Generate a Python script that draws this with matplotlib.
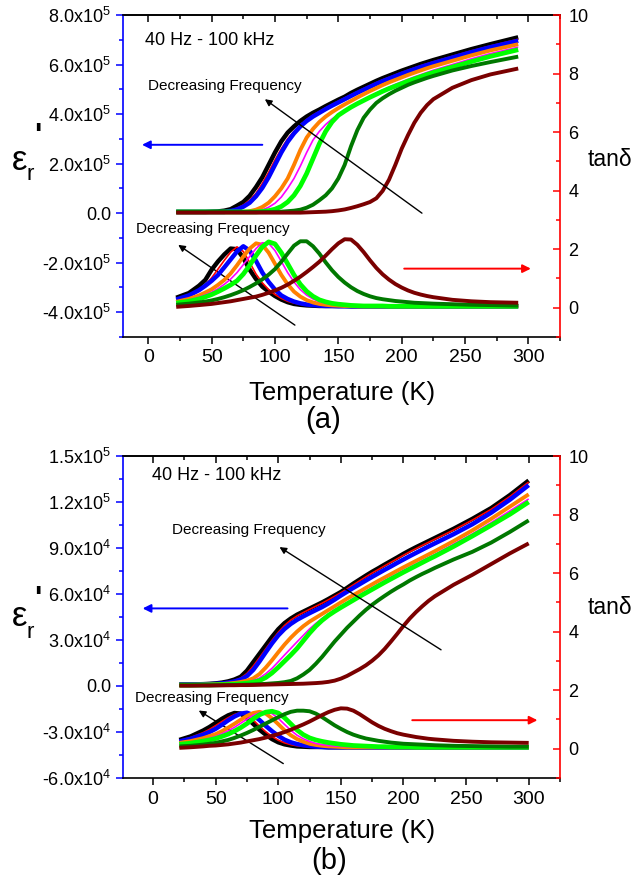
import numpy as np
import matplotlib
matplotlib.use('Agg')
import matplotlib.pyplot as plt
from matplotlib.ticker import MultipleLocator, FuncFormatter

plt.rcParams['font.family'] = ['Liberation Sans', 'DejaVu Sans']
plt.rcParams['mathtext.fontset'] = 'custom'
plt.rcParams['mathtext.rm'] = 'Liberation Sans'

# ---------------- panel (a) ----------------
T_a = [22, 32, 40, 45, 50, 55, 60, 65, 70, 75,
       80, 85, 90, 95, 100, 105, 110, 115, 120, 125,
       130, 135, 140, 145, 150, 155, 160, 165, 170, 175,
       180, 185, 190, 195, 200, 205, 210, 215, 220, 225,
       240, 255, 270, 292]

# eps' in units of 1e5
eps_a_black = [0.05, 0.05, 0.05, 0.05, 0.06, 0.07, 0.1, 0.16, 0.3, 0.45,
               0.7, 1.05, 1.45, 1.95, 2.45, 2.9, 3.25, 3.5, 3.72, 3.9,
               4.05, 4.18, 4.32, 4.45, 4.58, 4.7, 4.85, 4.98, 5.1, 5.22,
               5.34, 5.45, 5.55, 5.65, 5.75, 5.84, 5.93, 6.02, 6.1, 6.18,
               6.4, 6.62, 6.82, 7.1]
eps_a_red = [0.05, 0.05, 0.05, 0.05, 0.05, 0.06, 0.08, 0.12, 0.2, 0.33,
             0.52, 0.8, 1.2, 1.65, 2.15, 2.6, 3.0, 3.3, 3.55, 3.78,
             3.96, 4.1, 4.25, 4.38, 4.52, 4.65, 4.78, 4.9, 5.03, 5.15,
             5.27, 5.38, 5.48, 5.58, 5.68, 5.77, 5.86, 5.95, 6.03, 6.11,
             6.33, 6.55, 6.75, 7.02]
eps_a_blue = [0.05, 0.05, 0.05, 0.05, 0.05, 0.05, 0.05, 0.09, 0.15, 0.26,
              0.42, 0.68, 1.02, 1.45, 1.95, 2.45, 2.88, 3.22, 3.5, 3.72,
              3.9, 4.05, 4.2, 4.34, 4.47, 4.6, 4.73, 4.86, 4.98, 5.1,
              5.22, 5.33, 5.43, 5.53, 5.63, 5.72, 5.81, 5.9, 5.98, 6.06,
              6.28, 6.5, 6.7, 6.96]
eps_a_orange = [0.05, 0.05, 0.05, 0.05, 0.05, 0.05, 0.05, 0.05, 0.05, 0.05,
                0.08, 0.14, 0.25, 0.42, 0.68, 1.0, 1.4, 1.95, 2.55, 3.05,
                3.4, 3.68, 3.9, 4.08, 4.24, 4.39, 4.53, 4.67, 4.8, 4.93,
                5.05, 5.17, 5.28, 5.38, 5.48, 5.58, 5.67, 5.76, 5.85, 5.93,
                6.15, 6.37, 6.57, 6.82]
eps_a_magenta = [0.05, 0.05, 0.05, 0.05, 0.05, 0.05, 0.05, 0.05, 0.05, 0.05,
                 0.05, 0.08, 0.13, 0.24, 0.4, 0.65, 1.0, 1.4, 1.9, 2.45,
                 2.95, 3.3, 3.58, 3.8, 3.98, 4.15, 4.3, 4.45, 4.59, 4.72,
                 4.85, 4.97, 5.09, 5.2, 5.3, 5.4, 5.5, 5.59, 5.68, 5.77,
                 6.0, 6.23, 6.44, 6.7]
eps_a_lime = [0.05, 0.05, 0.05, 0.05, 0.05, 0.05, 0.05, 0.05, 0.05, 0.05,
              0.05, 0.05, 0.07, 0.1, 0.16, 0.27, 0.45, 0.72, 1.1, 1.6,
              2.2, 2.8, 3.3, 3.68, 3.95, 4.12, 4.28, 4.42, 4.55, 4.68,
              4.8, 4.92, 5.03, 5.13, 5.23, 5.33, 5.42, 5.51, 5.6, 5.68,
              5.9, 6.12, 6.33, 6.6]
eps_a_dkgreen = [0.05, 0.05, 0.05, 0.05, 0.05, 0.05, 0.05, 0.05, 0.05, 0.05,
                 0.05, 0.05, 0.05, 0.05, 0.05, 0.06, 0.08, 0.1, 0.14, 0.22,
                 0.34, 0.52, 0.72, 1.0, 1.4, 1.95, 2.7, 3.35, 3.85, 4.18,
                 4.45, 4.64, 4.8, 4.94, 5.06, 5.18, 5.28, 5.37, 5.46, 5.54,
                 5.76, 5.94, 6.1, 6.32]
eps_a_maroon = [0.02, 0.02, 0.02, 0.02, 0.02, 0.02, 0.02, 0.02, 0.02, 0.02,
                0.02, 0.02, 0.02, 0.02, 0.02, 0.02, 0.02, 0.02, 0.02, 0.03,
                0.04, 0.05, 0.06, 0.08, 0.11, 0.15, 0.21, 0.28, 0.36, 0.45,
                0.6, 0.9, 1.35, 1.95, 2.6, 3.15, 3.65, 4.05, 4.36, 4.6,
                5.06, 5.37, 5.6, 5.84]

tan_a_black = [0.34, 0.5, 0.75, 0.95, 1.3, 1.58, 1.82, 2.02, 2.0, 1.7,
               1.3, 0.98, 0.72, 0.55, 0.4, 0.28, 0.19, 0.13, 0.1, 0.08,
               0.07, 0.06, 0.06, 0.06, 0.06, 0.06, 0.05, 0.05, 0.05, 0.05,
               0.05, 0.05, 0.05, 0.05, 0.05, 0.05, 0.05, 0.05, 0.05, 0.05,
               0.05, 0.05, 0.05, 0.05]
tan_a_red = [0.3, 0.44, 0.62, 0.78, 1.02, 1.32, 1.62, 1.9, 2.08, 1.92,
             1.55, 1.15, 0.85, 0.62, 0.45, 0.32, 0.22, 0.16, 0.12, 0.09,
             0.07, 0.06, 0.06, 0.06, 0.05, 0.05, 0.05, 0.05, 0.05, 0.05,
             0.05, 0.05, 0.05, 0.05, 0.05, 0.05, 0.05, 0.05, 0.05, 0.05,
             0.05, 0.05, 0.05, 0.05]
tan_a_blue = [0.28, 0.42, 0.6, 0.75, 0.92, 1.12, 1.38, 1.65, 1.92, 2.1,
              1.95, 1.6, 1.2, 0.88, 0.62, 0.42, 0.3, 0.21, 0.15, 0.11,
              0.09, 0.07, 0.06, 0.06, 0.05, 0.05, 0.05, 0.05, 0.05, 0.05,
              0.05, 0.05, 0.05, 0.05, 0.05, 0.05, 0.05, 0.05, 0.05, 0.05,
              0.05, 0.05, 0.05, 0.05]
tan_a_orange = [0.2, 0.3, 0.42, 0.52, 0.63, 0.78, 0.95, 1.17, 1.45, 1.75,
                2.02, 2.2, 2.15, 1.88, 1.5, 1.12, 0.8, 0.55, 0.38, 0.26,
                0.18, 0.13, 0.1, 0.08, 0.07, 0.06, 0.06, 0.05, 0.05, 0.05,
                0.05, 0.05, 0.05, 0.05, 0.05, 0.05, 0.05, 0.05, 0.05, 0.05,
                0.05, 0.05, 0.05, 0.05]
tan_a_magenta = [0.18, 0.26, 0.36, 0.44, 0.53, 0.65, 0.8, 0.98, 1.2, 1.47,
                 1.75, 2.02, 2.22, 2.2, 1.95, 1.58, 1.2, 0.88, 0.62, 0.43,
                 0.3, 0.21, 0.15, 0.11, 0.09, 0.07, 0.06, 0.06, 0.05, 0.05,
                 0.05, 0.05, 0.05, 0.05, 0.05, 0.05, 0.05, 0.05, 0.05, 0.05,
                 0.05, 0.05, 0.05, 0.05]
tan_a_lime = [0.16, 0.22, 0.3, 0.37, 0.45, 0.55, 0.66, 0.78, 0.92, 1.15,
              1.45, 1.78, 2.08, 2.25, 2.18, 1.88, 1.5, 1.12, 0.8, 0.56,
              0.39, 0.27, 0.2, 0.15, 0.12, 0.1, 0.08, 0.07, 0.06, 0.06,
              0.06, 0.06, 0.05, 0.05, 0.05, 0.05, 0.05, 0.05, 0.05, 0.05,
              0.05, 0.05, 0.05, 0.05]
tan_a_dkgreen = [0.1, 0.14, 0.18, 0.21, 0.25, 0.3, 0.36, 0.43, 0.51, 0.6,
                 0.71, 0.83, 0.97, 1.13, 1.32, 1.57, 1.85, 2.12, 2.27, 2.27,
                 2.1, 1.85, 1.55, 1.28, 1.05, 0.86, 0.7, 0.57, 0.47, 0.39,
                 0.33, 0.29, 0.26, 0.23, 0.21, 0.19, 0.17, 0.16, 0.15, 0.14,
                 0.12, 0.1, 0.09, 0.07]
tan_a_maroon = [0.03, 0.06, 0.09, 0.11, 0.13, 0.16, 0.19, 0.22, 0.26, 0.3,
                0.34, 0.38, 0.44, 0.51, 0.59, 0.68, 0.79, 0.92, 1.06, 1.22,
                1.39, 1.57, 1.78, 2.0, 2.2, 2.34, 2.33, 2.15, 1.9, 1.62,
                1.36, 1.14, 0.96, 0.81, 0.69, 0.59, 0.51, 0.45, 0.4, 0.36,
                0.27, 0.22, 0.19, 0.17]

# ---------------- panel (b) ----------------
T_b = [21, 30, 40, 45, 50, 55, 60, 65, 70, 75,
       80, 85, 90, 95, 100, 105, 110, 115, 120, 125,
       130, 135, 140, 145, 150, 155, 160, 165, 170, 175,
       180, 185, 190, 195, 200, 205, 210, 215, 220, 225,
       240, 255, 270, 285, 300]

# eps' in units of 1e4
eps_b_black = [0.1, 0.1, 0.12, 0.14, 0.17, 0.22, 0.3, 0.42, 0.6, 1.0,
               1.55, 2.1, 2.65, 3.2, 3.7, 4.1, 4.4, 4.65, 4.85, 5.05,
               5.25, 5.45, 5.67, 5.9, 6.13, 6.4, 6.68, 6.94, 7.2, 7.45,
               7.68, 7.92, 8.15, 8.38, 8.62, 8.84, 9.05, 9.25, 9.45, 9.65,
               10.25, 10.9, 11.6, 12.45, 13.4]
eps_b_red = [0.1, 0.1, 0.11, 0.12, 0.15, 0.19, 0.26, 0.36, 0.52, 0.82,
             1.3, 1.85, 2.42, 2.98, 3.5, 3.95, 4.3, 4.57, 4.79, 5.0,
             5.2, 5.4, 5.62, 5.85, 6.08, 6.34, 6.6, 6.86, 7.12, 7.37,
             7.6, 7.84, 8.07, 8.3, 8.53, 8.75, 8.96, 9.17, 9.37, 9.57,
             10.17, 10.82, 11.52, 12.36, 13.3]
eps_b_blue = [0.1, 0.1, 0.11, 0.12, 0.14, 0.17, 0.22, 0.3, 0.42, 0.65,
              1.05, 1.6, 2.2, 2.78, 3.3, 3.72, 4.05, 4.32, 4.54, 4.75,
              4.95, 5.15, 5.38, 5.63, 5.9, 6.15, 6.4, 6.64, 6.88, 7.12,
              7.35, 7.58, 7.8, 8.03, 8.25, 8.47, 8.68, 8.89, 9.1, 9.3,
              9.9, 10.55, 11.3, 12.15, 13.1]
eps_b_orange = [0.08, 0.08, 0.09, 0.1, 0.11, 0.13, 0.16, 0.2, 0.26, 0.35,
                0.5, 0.78, 1.2, 1.68, 2.2, 2.7, 3.15, 3.55, 3.9, 4.2,
                4.45, 4.7, 4.95, 5.2, 5.45, 5.7, 5.93, 6.16, 6.4, 6.63,
                6.86, 7.08, 7.3, 7.52, 7.74, 7.95, 8.16, 8.37, 8.58, 8.79,
                9.45, 10.15, 10.9, 11.7, 12.5]
eps_b_magenta = [0.07, 0.07, 0.08, 0.08, 0.09, 0.1, 0.12, 0.15, 0.19, 0.25,
                 0.35, 0.52, 0.8, 1.15, 1.58, 2.02, 2.45, 2.88, 3.3, 3.72,
                 4.08, 4.4, 4.68, 4.94, 5.2, 5.45, 5.7, 5.94, 6.17, 6.41,
                 6.64, 6.87, 7.09, 7.31, 7.53, 7.74, 7.95, 8.16, 8.37, 8.57,
                 9.25, 9.92, 10.65, 11.42, 12.2]
eps_b_lime = [0.06, 0.06, 0.07, 0.07, 0.08, 0.09, 0.1, 0.12, 0.15, 0.19,
              0.25, 0.35, 0.55, 0.85, 1.22, 1.62, 2.02, 2.45, 2.95, 3.45,
              3.9, 4.28, 4.6, 4.87, 5.12, 5.36, 5.6, 5.84, 6.07, 6.3,
              6.53, 6.76, 6.98, 7.2, 7.42, 7.63, 7.84, 8.05, 8.26, 8.46,
              9.1, 9.78, 10.48, 11.2, 12.0]
eps_b_dkgreen = [0.05, 0.05, 0.05, 0.05, 0.05, 0.06, 0.06, 0.07, 0.08, 0.09,
                 0.1, 0.12, 0.14, 0.17, 0.2, 0.25, 0.33, 0.5, 0.75, 1.05,
                 1.45, 1.9, 2.4, 2.9, 3.35, 3.8, 4.2, 4.6, 4.97, 5.3,
                 5.6, 5.88, 6.15, 6.4, 6.63, 6.88, 7.1, 7.31, 7.5, 7.7,
                 8.25, 8.75, 9.35, 10.05, 10.8]
eps_b_maroon = [0.02, 0.02, 0.03, 0.03, 0.04, 0.04, 0.05, 0.05, 0.06, 0.06,
                0.07, 0.08, 0.09, 0.1, 0.11, 0.12, 0.13, 0.14, 0.15, 0.17,
                0.19, 0.22, 0.27, 0.35, 0.48, 0.66, 0.88, 1.1, 1.35, 1.65,
                2.0, 2.42, 2.9, 3.4, 3.92, 4.4, 4.82, 5.2, 5.55, 5.85,
                6.6, 7.25, 7.95, 8.65, 9.3]

tan_b_black = [0.3, 0.42, 0.62, 0.74, 0.88, 1.02, 1.14, 1.22, 1.2, 1.05,
               0.85, 0.65, 0.48, 0.33, 0.22, 0.15, 0.11, 0.08, 0.07, 0.06,
               0.06, 0.06, 0.05, 0.05, 0.05, 0.05, 0.05, 0.05, 0.05, 0.05,
               0.05, 0.05, 0.05, 0.05, 0.05, 0.05, 0.05, 0.05, 0.05, 0.05,
               0.05, 0.05, 0.05, 0.05, 0.05]
tan_b_red = [0.28, 0.38, 0.55, 0.66, 0.79, 0.93, 1.06, 1.17, 1.23, 1.16,
             0.98, 0.77, 0.58, 0.42, 0.29, 0.2, 0.14, 0.1, 0.08, 0.07,
             0.06, 0.06, 0.05, 0.05, 0.05, 0.05, 0.05, 0.05, 0.05, 0.05,
             0.05, 0.05, 0.05, 0.05, 0.05, 0.05, 0.05, 0.05, 0.05, 0.05,
             0.05, 0.05, 0.05, 0.05, 0.05]
tan_b_blue = [0.25, 0.34, 0.48, 0.57, 0.68, 0.82, 0.97, 1.1, 1.2, 1.23,
              1.15, 0.98, 0.78, 0.6, 0.44, 0.31, 0.22, 0.16, 0.12, 0.09,
              0.07, 0.06, 0.05, 0.05, 0.05, 0.05, 0.05, 0.05, 0.05, 0.05,
              0.05, 0.05, 0.05, 0.05, 0.05, 0.05, 0.05, 0.05, 0.05, 0.05,
              0.05, 0.05, 0.05, 0.05, 0.05]
tan_b_orange = [0.2, 0.26, 0.36, 0.43, 0.5, 0.6, 0.72, 0.85, 0.99, 1.12,
                1.22, 1.26, 1.2, 1.04, 0.84, 0.63, 0.46, 0.33, 0.24, 0.17,
                0.13, 0.1, 0.08, 0.07, 0.06, 0.05, 0.05, 0.05, 0.05, 0.05,
                0.05, 0.05, 0.05, 0.05, 0.05, 0.05, 0.05, 0.05, 0.05, 0.05,
                0.05, 0.05, 0.05, 0.05, 0.05]
tan_b_magenta = [0.17, 0.22, 0.3, 0.36, 0.42, 0.51, 0.61, 0.73, 0.87, 1.01,
                 1.14, 1.23, 1.27, 1.2, 1.04, 0.83, 0.63, 0.46, 0.34, 0.25,
                 0.18, 0.14, 0.11, 0.09, 0.08, 0.07, 0.06, 0.05, 0.05, 0.05,
                 0.05, 0.05, 0.05, 0.05, 0.05, 0.05, 0.05, 0.05, 0.05, 0.05,
                 0.05, 0.05, 0.05, 0.05, 0.05]
tan_b_lime = [0.15, 0.19, 0.26, 0.3, 0.35, 0.42, 0.5, 0.6, 0.72, 0.86,
              1.02, 1.16, 1.25, 1.28, 1.22, 1.06, 0.85, 0.64, 0.48, 0.37,
              0.3, 0.25, 0.21, 0.18, 0.15, 0.13, 0.11, 0.1, 0.09, 0.08,
              0.07, 0.07, 0.06, 0.06, 0.06, 0.06, 0.05, 0.05, 0.05, 0.05,
              0.05, 0.05, 0.05, 0.05, 0.05]
tan_b_dkgreen = [0.08, 0.1, 0.14, 0.17, 0.2, 0.25, 0.3, 0.37, 0.45, 0.54,
                 0.64, 0.75, 0.86, 0.97, 1.08, 1.18, 1.26, 1.3, 1.3, 1.28,
                 1.2, 1.08, 0.94, 0.8, 0.68, 0.57, 0.48, 0.41, 0.35, 0.31,
                 0.27, 0.24, 0.21, 0.19, 0.17, 0.16, 0.15, 0.14, 0.13, 0.12,
                 0.1, 0.09, 0.08, 0.07, 0.07]
tan_b_maroon = [0.03, 0.05, 0.08, 0.1, 0.11, 0.13, 0.15, 0.18, 0.21, 0.25,
                0.29, 0.33, 0.38, 0.44, 0.5, 0.57, 0.65, 0.74, 0.83, 0.93,
                1.04, 1.15, 1.25, 1.33, 1.38, 1.37, 1.3, 1.18, 1.04, 0.9,
                0.78, 0.68, 0.6, 0.53, 0.48, 0.44, 0.4, 0.37, 0.34, 0.32,
                0.27, 0.24, 0.22, 0.21, 0.2]

colors = ['#000000', '#ff0000', '#0000ff', '#ff8000',
          '#ff00ff', '#00ff00', '#007800', '#7a0000']
widths = [3.2, 1.2, 3.2, 2.8, 1.2, 3.4, 2.8, 2.8]

W, H = 637, 877


def fx(px):
    return px / W


def fy(py):
    return 1 - py / H


def sci_fmt(v, pos):
    # Origin style labels, e.g. "-2.0x10^5" with a plain hyphen
    if abs(v) < 1e-6:
        return '0.0'
    e = int(np.floor(np.log10(abs(v)) + 1e-9))
    m = abs(v) / 10 ** e
    sign = '-' if v < 0 else ''
    return sign + r'$\mathregular{%.1fx10^{%d}}$' % (m, e)


def make_panel(rect, T, eps, tans, scale, xlim, ylim, ymaj, ymin):
    ax = fig.add_axes(rect)
    for y, c, lw in zip(eps, colors, widths):
        ax.plot(T, np.array(y) * scale, color=c, lw=lw, solid_capstyle='butt')
    ax.set_xlim(*xlim)
    ax.set_ylim(*ylim)
    ax.xaxis.set_major_locator(MultipleLocator(50))
    ax.xaxis.set_minor_locator(MultipleLocator(25))
    ax.yaxis.set_major_locator(MultipleLocator(ymaj))
    ax.yaxis.set_minor_locator(MultipleLocator(ymin))
    ax.yaxis.set_major_formatter(FuncFormatter(sci_fmt))
    ax.tick_params(axis='x', which='both', direction='out', top=False,
                   labelsize=14, pad=4)
    ax.tick_params(axis='x', which='major', length=5, width=1.1)
    ax.tick_params(axis='x', which='minor', length=3, width=1.1)
    ax.tick_params(axis='y', which='both', direction='out', color='blue',
                   labelsize=13, width=1.1)
    ax.tick_params(axis='y', which='major', length=5)
    ax.tick_params(axis='y', which='minor', length=3)
    ax.spines['left'].set_color('blue')
    ax.spines['right'].set_visible(False)
    for s in ax.spines.values():
        s.set_linewidth(1.2)

    top = ax.secondary_xaxis('top')
    top.xaxis.set_major_locator(MultipleLocator(50))
    top.xaxis.set_minor_locator(MultipleLocator(25))
    top.tick_params(which='both', direction='in', labeltop=False, width=1.1)
    top.tick_params(which='major', length=5)
    top.tick_params(which='minor', length=3)
    top.spines['top'].set_linewidth(1.2)

    ax2 = ax.twinx()
    for y, c, lw in zip(tans, colors, widths):
        ax2.plot(T, y, color=c, lw=lw, solid_capstyle='butt')
    ax2.set_ylim(-1, 10)
    ax2.yaxis.set_major_locator(MultipleLocator(2))
    ax2.yaxis.set_minor_locator(MultipleLocator(1))
    ax2.tick_params(axis='y', which='both', direction='in', color='red',
                    labelsize=13, width=1.1, pad=6)
    ax2.tick_params(axis='y', which='major', length=5)
    ax2.tick_params(axis='y', which='minor', length=3)
    for s in ['left', 'top', 'bottom']:
        ax2.spines[s].set_visible(False)
    ax2.spines['right'].set_color('red')
    ax2.spines['right'].set_linewidth(1.2)
    return ax, ax2


def arrow(ax, xy_from, xy_to, color, lw, ms):
    ax.annotate('', xy=xy_to, xytext=xy_from,
                arrowprops=dict(arrowstyle='-|>', color=color, lw=lw,
                                mutation_scale=ms, shrinkA=0, shrinkB=0))


fig = plt.figure(figsize=(W / 100, H / 100), dpi=100)

# panel (a)
axa, axa2 = make_panel([fx(123), fy(337), fx(560) - fx(123), 322 / H],
                       T_a,
                       [eps_a_black, eps_a_red, eps_a_blue, eps_a_orange,
                        eps_a_magenta, eps_a_lime, eps_a_dkgreen, eps_a_maroon],
                       [tan_a_black, tan_a_red, tan_a_blue, tan_a_orange,
                        tan_a_magenta, tan_a_lime, tan_a_dkgreen, tan_a_maroon],
                       1e5, (-20, 325), (-5e5, 8e5), 2e5, 1e5)
axa.text(-3, 6.96e5, '40 Hz - 100 kHz', fontsize=13, va='center', ha='left')
axa.text(0, 5.12e5, 'Decreasing Frequency', fontsize=11, va='center', ha='left')
arrow(axa, (216, 0.0), (92, 4.6e5), 'black', 1.0, 10)
arrow(axa, (90, 2.76e5), (-5, 2.76e5), 'blue', 1.4, 12)
axa.text(-10, -0.64e5, 'Decreasing Frequency', fontsize=11, va='center', ha='left')
arrow(axa, (115.7, -4.52e5), (23.6, -1.28e5), 'black', 1.0, 10)
arrow(axa, (202, -2.24e5), (302, -2.24e5), 'red', 1.4, 12)

# panel (b)
axb, axb2 = make_panel([fx(123), fy(778), fx(560) - fx(123), 322 / H],
                       T_b,
                       [eps_b_black, eps_b_red, eps_b_blue, eps_b_orange,
                        eps_b_magenta, eps_b_lime, eps_b_dkgreen, eps_b_maroon],
                       [tan_b_black, tan_b_red, tan_b_blue, tan_b_orange,
                        tan_b_magenta, tan_b_lime, tan_b_dkgreen, tan_b_maroon],
                       1e4, (-24, 325), (-6e4, 1.5e5), 3e4, 1.5e4)
axb.text(-1, 13.7e4, '40 Hz - 100 kHz', fontsize=13, va='center', ha='left')
axb.text(15, 10.2e4, 'Decreasing Frequency', fontsize=11, va='center', ha='left')
arrow(axb, (230, 2.36e4), (101, 9.06e4), 'black', 1.0, 10)
arrow(axb, (107.4, 5.06e4), (-8.3, 5.06e4), 'blue', 1.4, 12)
axb.text(-14.7, -0.8e4, 'Decreasing Frequency', fontsize=11, va='center', ha='left')
arrow(axb, (104, -5.06e4), (36.5, -1.6e4), 'black', 1.0, 10)
arrow(axb, (207, -2.23e4), (307, -2.23e4), 'red', 1.4, 12)

# axis titles
for (ey, ry, py, ty, xl) in [(160, 175, 137, 160, 393),
                             (617, 632, 600, 608, 831)]:
    fig.text(fx(20), fy(ey), '\u03b5', fontsize=25, ha='center', va='center')
    fig.text(fx(30), fy(ry), 'r', fontsize=16, ha='center', va='center')
    fig.text(fx(38), fy(py), "'", fontsize=22, fontweight='bold',
             ha='center', va='center')
    fig.text(fx(610), fy(ty), 'tan\u03b4', fontsize=16.5, ha='center', va='center')
    fig.text(fx(342), fy(xl), 'Temperature (K)', fontsize=18.5,
             ha='center', va='center')
fig.text(fx(323), fy(420), '(a)', fontsize=21, ha='center', va='center')
fig.text(fx(329), fy(861), '(b)', fontsize=21, ha='center', va='center')

fig.savefig('out.png', dpi=100)
